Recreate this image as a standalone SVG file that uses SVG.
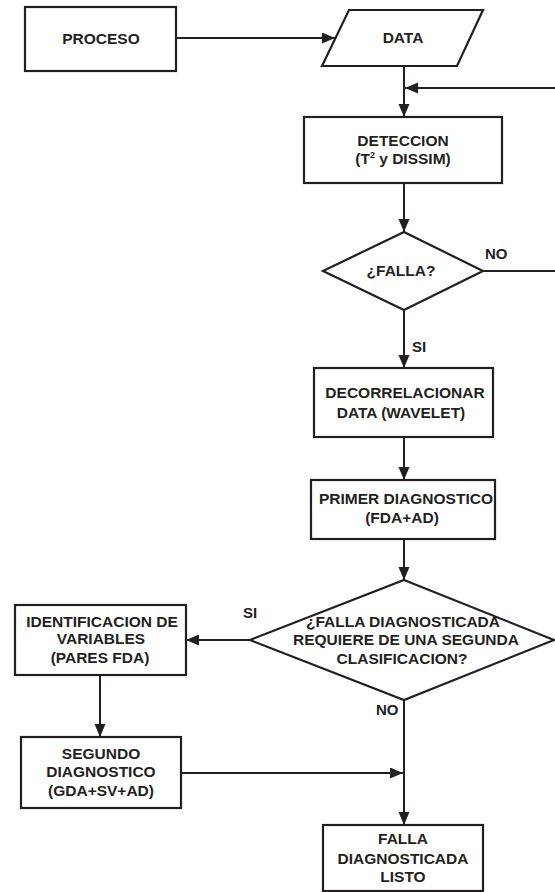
<svg xmlns="http://www.w3.org/2000/svg" width="555" height="892" viewBox="0 0 555 892">
  <style>
    .shape { fill: #ffffff; stroke: #231f20; stroke-width: 2.2; }
    .link { fill: none; stroke: #231f20; stroke-width: 2; }
    text { font-family: "Liberation Sans", Arial, Helvetica, sans-serif; font-weight: bold; font-size: 15.5px; fill: #231f20; }
    .c { text-anchor: middle; }
    .lbl { font-size: 15px; }
  </style>
  <defs>
    <marker id="arrow" markerUnits="userSpaceOnUse" markerWidth="14" markerHeight="12" refX="13" refY="5.5" orient="auto">
      <path d="M0,0 L13,5.5 L0,11 Z" fill="#231f20"/>
    </marker>
  </defs>

  <rect width="555" height="892" fill="#ffffff"/>

  <!-- connectors -->
  <g id="connectors">
    <path class="link" d="M176,38 H335" marker-end="url(#arrow)"/>
    <path class="link" d="M404,66 V117" marker-end="url(#arrow)"/>
    <path class="link" d="M483,271 H558 V88 H405" marker-end="url(#arrow)"/>
    <path class="link" d="M404,183 V232" marker-end="url(#arrow)"/>
    <path class="link" d="M404,310 V368" marker-end="url(#arrow)"/>
    <path class="link" d="M404,437 V480" marker-end="url(#arrow)"/>
    <path class="link" d="M404,539 V580" marker-end="url(#arrow)"/>
    <path class="link" d="M250,640 H186" marker-end="url(#arrow)"/>
    <path class="link" d="M100,675 V737" marker-end="url(#arrow)"/>
    <path class="link" d="M181,773 H403" marker-end="url(#arrow)"/>
    <path class="link" d="M404,700 V825" marker-end="url(#arrow)"/>
    <text class="lbl" x="485" y="259">NO</text>
    <text class="lbl" x="412" y="352">SI</text>
    <text class="lbl" x="243" y="618">SI</text>
    <text class="lbl" x="376" y="715">NO</text>
  </g>

  <g id="proceso">
    <rect class="shape" x="25" y="7" width="151" height="64"/>
    <text class="c" x="101" y="44">PROCESO</text>
  </g>

  <g id="data">
    <polygon class="shape" points="349,10 483,10 457,66 322,66"/>
    <text class="c" x="403" y="43">DATA</text>
  </g>

  <g id="deteccion">
    <rect class="shape" x="304" y="117" width="198" height="66"/>
    <text class="c" x="403" y="146">DETECCION</text>
    <text class="c" x="403" y="164">(T<tspan font-size="9" dy="-6">2</tspan><tspan dy="6"> y DISSIM)</tspan></text>
  </g>

  <g id="falla">
    <polygon class="shape" points="404,232 483,271 404,310 323,271"/>
    <text class="c" x="401" y="276">¿FALLA?</text>
  </g>

  <g id="decorrelacionar">
    <rect class="shape" x="314" y="368" width="179" height="69"/>
    <text class="c" x="405" y="398">DECORRELACIONAR</text>
    <text class="c" x="401" y="418">DATA (WAVELET)</text>
  </g>

  <g id="primer-diagnostico">
    <rect class="shape" x="311" y="480" width="184" height="59"/>
    <text class="c" x="406" y="504">PRIMER DIAGNOSTICO</text>
    <text class="c" x="402" y="523">(FDA+AD)</text>
  </g>

  <g id="segunda-clasificacion">
    <polygon class="shape" points="404,580 554,640 404,700 250,640"/>
    <text class="c" x="403" y="627">¿FALLA DIAGNOSTICADA</text>
    <text class="c" x="406" y="645">REQUIERE DE UNA SEGUNDA</text>
    <text class="c" x="402" y="664">CLASIFICACION?</text>
  </g>

  <g id="identificacion">
    <rect class="shape" x="15" y="605" width="171" height="70"/>
    <text class="c" x="102" y="627">IDENTIFICACION DE</text>
    <text class="c" x="101" y="644">VARIABLES</text>
    <text class="c" x="100" y="663">(PARES FDA)</text>
  </g>

  <g id="segundo-diagnostico">
    <rect class="shape" x="21" y="737" width="160" height="71"/>
    <text class="c" x="101" y="759">SEGUNDO</text>
    <text class="c" x="101" y="777">DIAGNOSTICO</text>
    <text class="c" x="101" y="796">(GDA+SV+AD)</text>
  </g>

  <g id="listo">
    <rect class="shape" x="323" y="825" width="160" height="66"/>
    <text class="c" x="403" y="844">FALLA</text>
    <text class="c" x="403" y="864">DIAGNOSTICADA</text>
    <text class="c" x="403" y="882">LISTO</text>
  </g>
</svg>
